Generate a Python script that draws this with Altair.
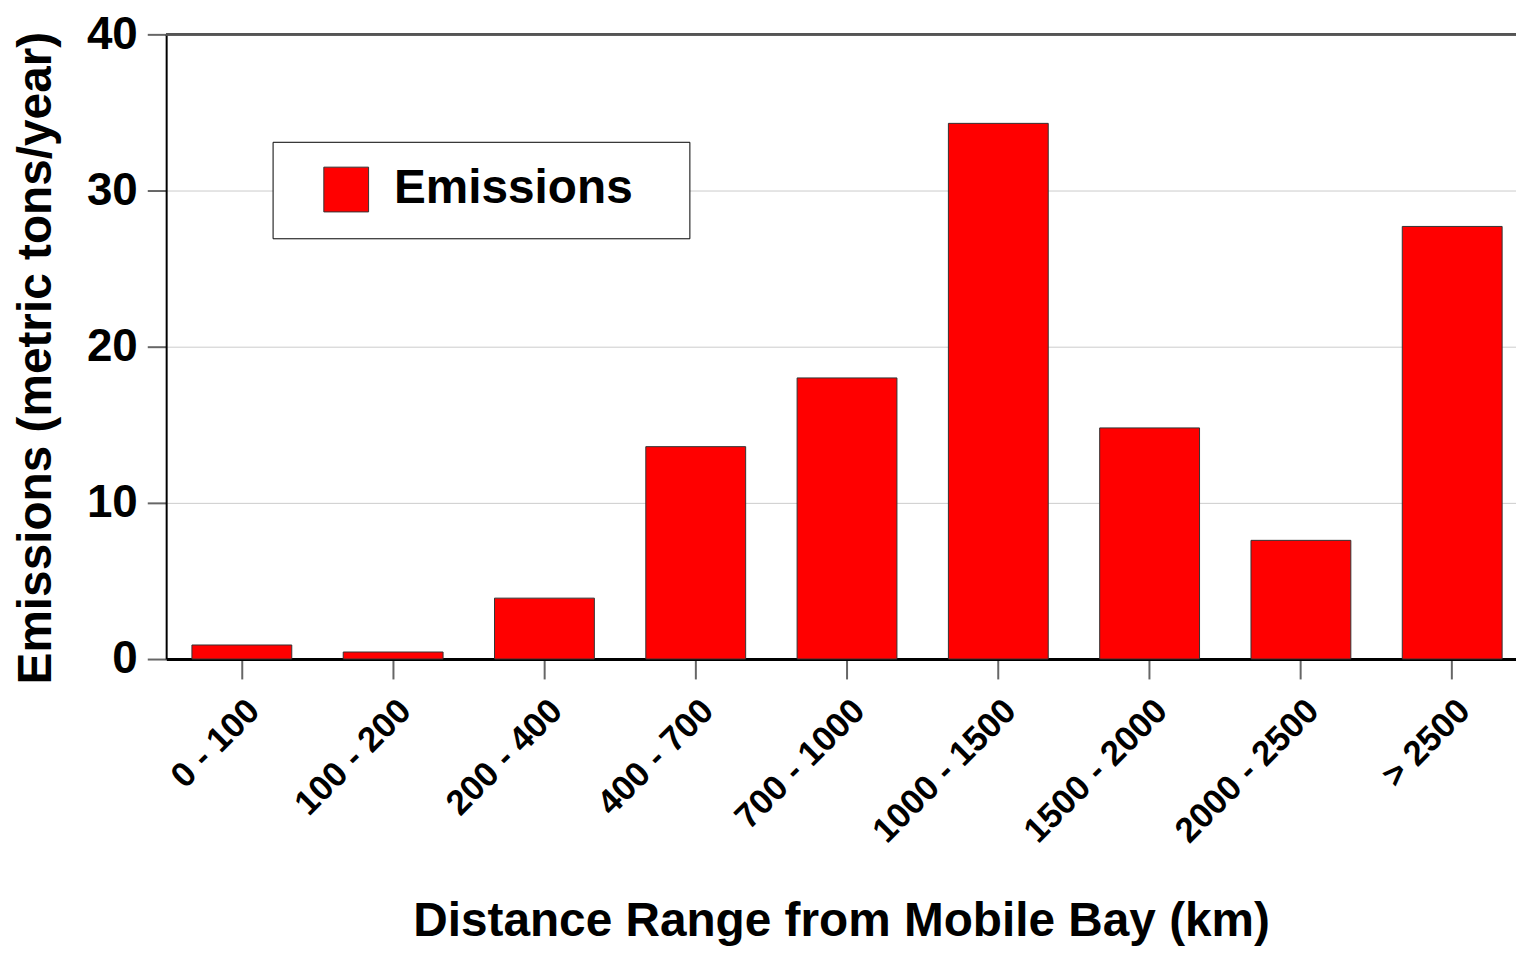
import altair as alt
import pandas as pd

categories = ["0 - 100", "100 - 200", "200 - 400", "400 - 700", "700 - 1000",
              "1000 - 1500", "1500 - 2000", "2000 - 2500", "> 2500"]
emissions = [0.9, 0.45, 3.9, 13.6, 18.0, 34.3, 14.8, 7.6, 27.7]
series = ["Emissions"] * len(categories)

df = pd.DataFrame({"range": categories, "value": emissions, "series": series})

FONT = "Liberation Sans"

bars = alt.Chart(df).mark_bar(stroke="#333333", strokeWidth=1).encode(
    x=alt.X("range:N", sort=categories,
            scale=alt.Scale(paddingInner=0.34, paddingOuter=0.131, align=0.65),
            axis=alt.Axis(title="Distance Range from Mobile Bay (km)",
                          labelAngle=-45, labelFontSize=35, labelFont=FONT,
                          labelFontWeight="bold", labelColor="black",
                          labelPadding=14, labelLimit=500,
                          tickSize=20, tickColor="#666666", tickWidth=2,
                          domainColor="black", domainWidth=3,
                          titleFontSize=48, titleFont=FONT, titleFontWeight="bold",
                          titleColor="black", titlePadding=49)),
    y=alt.Y("value:Q",
            scale=alt.Scale(domain=[0, 40]),
            axis=alt.Axis(title="Emissions (metric tons/year)", values=[0, 10, 20, 30, 40],
                          labelFontSize=46, labelFont=FONT, labelFontWeight="bold",
                          labelColor="black", labelPadding=10,
                          tickSize=19, tickColor="#666666", tickWidth=2,
                          domainColor="black", domainWidth=2,
                          gridColor="#cccccc", gridWidth=1,
                          titleFontSize=48, titleFont=FONT, titleFontWeight="bold",
                          titleColor="black", titlePadding=26, titleY=325)),
    color=alt.Color("series:N", scale=alt.Scale(domain=["Emissions"], range=["#ff0000"]),
                    legend=alt.Legend(title=" ", titleOrient="right", titlePadding=33,
                                      titleFontSize=2,
                                      orient="none", legendX=107, legendY=108,
                                      fillColor="white", strokeColor="black",
                                      padding=24, symbolType="square", symbolSize=2025,
                                      symbolOffset=26, labelOffset=24, labelLimit=600,
                                      symbolStrokeColor="#333333", symbolStrokeWidth=1,
                                      labelFontSize=48, labelFont=FONT,
                                      labelFontWeight="bold", labelColor="black")),
)

top = alt.Chart(df).mark_rule(color="#555555", strokeWidth=2).encode(y=alt.value(0))

chart = alt.layer(bars, top).properties(
    width=1357, height=628,
    autosize=alt.AutoSizeParams(type="none"),
    padding={"left": 159, "top": 24, "right": 0, "bottom": 289},
).configure_view(stroke=None)

chart.save("out.html", embed_options={"renderer": "svg", "actions": False})
